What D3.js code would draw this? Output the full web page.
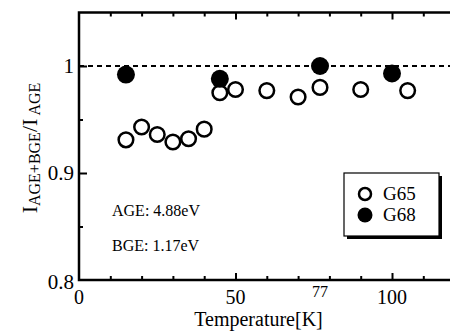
<!DOCTYPE html>
<html>
<head>
<meta charset="utf-8">
<script src="https://cdn.jsdelivr.net/npm/d3@7"></script>
<style>
  body { margin: 0; background: #fff; }
  text { font-family: "Liberation Serif", "Times New Roman", serif; fill: #000; }
</style>
</head>
<body>
<div id="chart"></div>
<script>
// data
var g65_temp  = [15, 20, 25, 30, 35, 40, 45, 50, 60, 70, 77, 90, 105];
var g65_ratio = [0.931, 0.943, 0.936, 0.929, 0.932, 0.941, 0.975, 0.978, 0.977, 0.971, 0.980, 0.978, 0.977];
var g68_temp  = [15, 45, 77, 100];
var g68_ratio = [0.992, 0.988, 1.000, 0.993];
var x_labels = [0, 50, 77, 100];
var y_labels = [0.8, 0.9, 1];
var x_minor = [10, 20, 30, 40, 60, 70, 80, 90, 110];
var x_major = [50, 100];
var y_minor = [0.85, 0.95];
var y_major = [0.9, 1.0];

var width = 450, height = 336;

var x = d3.scaleLinear().domain([0, 120]).range([79, 454.6]);
var y = d3.scaleLinear().domain([0.8, 1.05]).range([280, 12.5]);

var svg = d3.select('#chart')
            .append('svg')
            .attr('width', width)
            .attr('height', height);

// frame (left, bottom, top; right side is past the edge)
svg.append('path')
   .attr('d', 'M' + (width + 5) + ',' + y(1.05) + 'H' + x(0) + 'V' + y(0.8) + 'H' + (width + 5))
   .attr('fill', 'none')
   .attr('stroke', '#000')
   .attr('stroke-width', 2.5);

function ticks(axisFn, vals, len, pos) {
    var g = svg.append('g')
        .attr('transform', pos)
        .call(axisFn.tickValues(vals).tickSize(-len).tickFormat(''));
    g.select('.domain').remove();
    g.selectAll('line').attr('stroke-width', 2);
}
ticks(d3.axisBottom(x), x_minor, 4, 'translate(0,' + y(0.8) + ')');
ticks(d3.axisBottom(x), x_major, 7, 'translate(0,' + y(0.8) + ')');
ticks(d3.axisTop(x), x_minor, 4, 'translate(0,' + y(1.05) + ')');
ticks(d3.axisTop(x), x_major, 7, 'translate(0,' + y(1.05) + ')');
ticks(d3.axisLeft(y), y_minor, 4, 'translate(' + x(0) + ',0)');
ticks(d3.axisLeft(y), y_major, 8, 'translate(' + x(0) + ',0)');

// dashed reference line at 1
svg.append('line')
   .attr('x1', x(0)).attr('x2', width)
   .attr('y1', y(1)).attr('y2', y(1))
   .attr('stroke', '#000')
   .attr('stroke-width', 2)
   .attr('stroke-dasharray', '5,4');

// tick labels
svg.selectAll('.xl')
   .data(x_labels)
   .enter().append('text')
   .attr('class', 'xl')
   .attr('x', function(d) { return x(d); })
   .attr('y', function(d) { return d == 77 ? 297 : 304; })
   .attr('text-anchor', 'middle')
   .style('font-size', function(d) { return d == 77 ? '16px' : '20px'; })
   .text(function(d) { return d; });

svg.selectAll('.yl')
   .data(y_labels)
   .enter().append('text')
   .attr('class', 'yl')
   .attr('x', x(0) - 5)
   .attr('y', function(d) { return y(d) + (d == 0.8 ? 9 : 7); })
   .attr('text-anchor', 'end')
   .style('font-size', '21px')
   .text(function(d) { return d == 1 ? '1' : d3.format('.1f')(d); });

// axis titles
svg.append('text')
   .attr('x', x(50) + 23)
   .attr('y', 326)
   .attr('text-anchor', 'middle')
   .style('font-size', '20px')
   .text('Temperature[K]');

var ylab = svg.append('text')
   .attr('transform', 'translate(37,148) rotate(-90)')
   .attr('text-anchor', 'middle')
   .style('font-size', '22px');
ylab.append('tspan').text('I');
ylab.append('tspan').attr('dy', 3).style('font-size', '16px').text('AGE+BGE');
ylab.append('tspan').attr('dy', -3).text('/I');
ylab.append('tspan').attr('dy', 3).style('font-size', '16px').text(' AGE');

// annotations
svg.append('text').attr('x', 112).attr('y', 216).style('font-size', '16px').text('AGE: 4.88eV');
svg.append('text').attr('x', 112).attr('y', 251).style('font-size', '16px').text('BGE: 1.17eV');

// points
svg.selectAll('.g65')
   .data(g65_temp)
   .enter().append('circle')
   .attr('class', 'g65')
   .attr('cx', function(d) { return x(d); })
   .attr('cy', function(d, i) { return y(g65_ratio[i]); })
   .attr('r', 7.3)
   .attr('fill', '#fff')
   .attr('stroke', '#000')
   .attr('stroke-width', 2.5);

svg.selectAll('.g68')
   .data(g68_temp)
   .enter().append('circle')
   .attr('class', 'g68')
   .attr('cx', function(d) { return x(d); })
   .attr('cy', function(d, i) { return y(g68_ratio[i]); })
   .attr('r', 9)
   .attr('fill', '#000');

// legend
var lg = svg.append('g');
lg.append('rect').attr('x', 347).attr('y', 176).attr('width', 95).attr('height', 63).attr('fill', '#000');
lg.append('rect').attr('x', 344).attr('y', 173).attr('width', 95).attr('height', 63)
  .attr('fill', '#fff').attr('stroke', '#000').attr('stroke-width', 1.2);
lg.append('circle').attr('cx', 365).attr('cy', 194).attr('r', 6).attr('fill', '#fff')
  .attr('stroke', '#000').attr('stroke-width', 2.5);
lg.append('circle').attr('cx', 365).attr('cy', 215).attr('r', 7.5).attr('fill', '#000');
lg.append('text').attr('x', 383).attr('y', 200).style('font-size', '19px').text('G65');
lg.append('text').attr('x', 383).attr('y', 221).style('font-size', '19px').text('G68');
</script>
</body>
</html>
